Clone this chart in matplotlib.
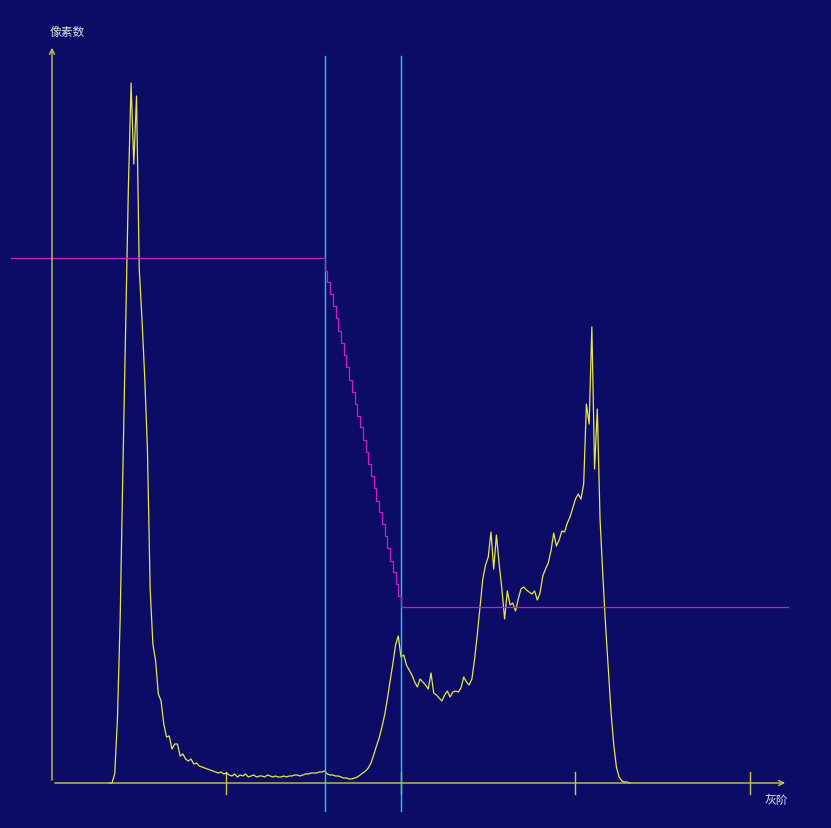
import matplotlib
matplotlib.use('Agg')
import matplotlib.pyplot as plt
import numpy as np

plt.rcParams['font.family'] = ['Noto Sans CJK SC', 'DejaVu Sans']

# histogram: gray level -> pixel count (in plot units)
hist_start = 21
hist_vals = [
    0, 0, 9, 64, 164, 314, 454, 594, 700, 619,          # 21-30
    687, 514, 464, 406, 334, 194, 139, 122, 89, 82,     # 31-40
    59, 46, 47, 34, 39, 39, 27, 29, 24, 22,             # 41-50
    24, 19, 20, 17, 16, 15, 14, 13, 12, 11,             # 51-60
    10, 11, 9, 10, 8, 7, 9, 6, 8, 7,                    # 61-70
    9, 6, 7, 8, 6, 7, 7, 6, 8, 7,                       # 71-80
    6, 7, 6, 6, 7, 6, 7, 7, 8, 8,                       # 81-90
    7, 8, 9, 9, 10, 10, 10, 11, 11, 12,                 # 91-100
    9, 8, 8, 7, 7, 6, 5, 5, 4, 4,                       # 101-110
    5, 6, 8, 10, 12, 15, 20, 28, 37, 45,                # 111-120
    56, 68, 84, 102, 119, 138, 147, 126, 128, 118,      # 121-130
    113, 108, 101, 96, 104, 101, 98, 94, 110, 90,       # 131-140
    88, 85, 82, 88, 92, 86, 91, 92, 91, 95,             # 141-150
    106, 101, 98, 104, 124, 149, 176, 204, 218, 226,    # 151-160
    251, 214, 248, 219, 194, 164, 192, 178, 180, 172,   # 161-170
    184, 194, 196, 193, 191, 189, 192, 183, 190, 207,   # 171-180
    214, 220, 232, 250, 237, 243, 252, 251, 260, 266,   # 181-190
    275, 284, 289, 284, 299, 379, 359, 456, 314, 374,   # 191-200
    264, 209, 159, 116, 72, 39, 16, 6, 2, 1,            # 201-210
    1, 0,                                               # 211-212
]

# transfer curve (magenta)
map_lo, map_hi = 100, 128
map_start_g, map_end_g = -15, 270
map_top, map_bottom = 525, 176
map_steps = [512, 501, 489, 477, 465, 452, 440, 428, 416, 403, 391, 379, 367, 356,
             343, 331, 319, 307, 295, 282, 271, 259, 247, 235, 222, 211, 199, 187]

# markers (cyan)
cursor_g = [100, 128]
x_ticks = [64, 128, 192, 256]

bg = '#0c0c66'
yellow = '#e6e64a'
axis_yellow = '#c8c850'
cyan = '#22c4f0'
magenta = '#c81ec8'
text_col = '#dcdce6'

k = 698 / 256.0  # px per gray level
fig = plt.figure(figsize=(8.31, 8.29), dpi=100)
fig.patch.set_facecolor(bg)
ax = fig.add_axes([0, 0, 1, 1])
ax.set_facecolor(bg)
ax.set_xlim(-52 / k, (831 - 52) / k)
ax.set_ylim(-45, 784)
ax.axis('off')

# axes with arrows
ax.annotate('', xy=(269.9, 0), xytext=(0, 0),
            arrowprops=dict(arrowstyle='->', color=axis_yellow, lw=1.0, mutation_scale=9))
ax.annotate('', xy=(0, 738), xytext=(0, 0),
            arrowprops=dict(arrowstyle='->', color=axis_yellow, lw=1.0, mutation_scale=9))
for t in x_ticks:
    ax.plot([t, t], [-11, 11], color=axis_yellow, lw=1.0)

# histogram
g = np.arange(hist_start, hist_start + len(hist_vals))
ax.plot(g, hist_vals, color=yellow, lw=0.9)

# cursors
for c in cursor_g:
    ax.plot([c, c], [-28, 727], color=cyan, lw=1.0)

# transfer curve
mx = [map_start_g] + list(range(map_lo, map_hi)) + [map_hi, map_end_g]
my = [map_top] + map_steps + [map_bottom, map_bottom]
ax.plot(mx, my, color=magenta, lw=0.9, drawstyle='steps-post')

ax.text(52 / k - 52 / k + 5.6, 752, '像素数', color=text_col, fontsize=8.5,
        ha='center', va='center')
ax.text((776 - 52) / k, -16, '灰阶', color=text_col, fontsize=8.5,
        ha='center', va='center')

fig.savefig('out.png', dpi=100, facecolor=bg)
